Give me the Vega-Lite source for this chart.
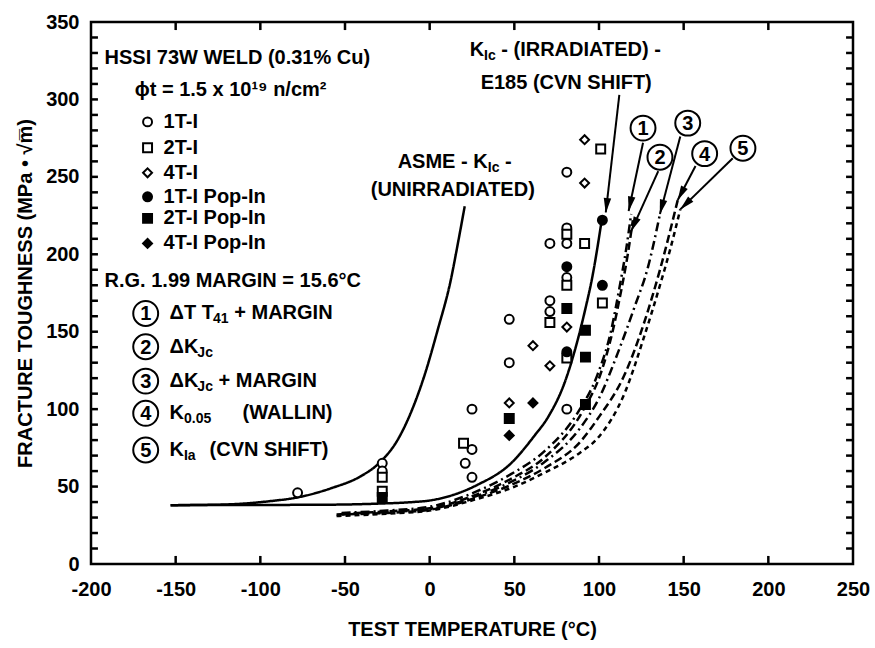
{
"$schema":"https://vega.github.io/schema/vega-lite/v6.json",
"width":762,"height":542,
"autosize":{"type":"none"},
"padding":{"left":91,"top":22,"right":22,"bottom":84},
"background":"white",
"config":{"font":"Liberation Sans","view":{"stroke":"black","strokeWidth":2.5},
 "axis":{"domain":false,"ticks":false,"labelColor":"black","labelFontSize":20,"labelFontWeight":"bold","titleFontSize":20,"titleFontWeight":"bold","titleColor":"black","grid":false,"labelFlush":false,"labelOverlap":false,"labelBound":false}},
"datasets":{
"xt":[{"v":-150},{"v":-100},{"v":-50},{"v":0},{"v":50},{"v":100},{"v":150},{"v":200}],
"yt":[{"v":10},{"v":20},{"v":30},{"v":40},{"v":50},{"v":60},{"v":70},{"v":80},{"v":90},{"v":100},{"v":110},{"v":120},{"v":130},{"v":140},{"v":150},{"v":160},{"v":170},{"v":180},{"v":190},{"v":200},{"v":210},{"v":220},{"v":230},{"v":240},{"v":250},{"v":260},{"v":270},{"v":280},{"v":290},{"v":300},{"v":310},{"v":320},{"v":330},{"v":340}],
"curves":[
{"c":"ASME","T":-153,"K":38},{"c":"ASME","T":-130,"K":38.2},{"c":"ASME","T":-110,"K":39},{"c":"ASME","T":-95,"K":40.5},{"c":"ASME","T":-78,"K":43},{"c":"ASME","T":-58,"K":49},{"c":"ASME","T":-41,"K":56.5},{"c":"ASME","T":-29.5,"K":65.5},{"c":"ASME","T":-19,"K":80},{"c":"ASME","T":-11,"K":98},{"c":"ASME","T":-3,"K":122},{"c":"ASME","T":4.7,"K":151},{"c":"ASME","T":12.4,"K":183},{"c":"ASME","T":17,"K":209},{"c":"ASME","T":20.7,"K":231},
{"c":"E185","T":-153,"K":38},{"c":"E185","T":-60,"K":38.3},{"c":"E185","T":-30,"K":39},{"c":"E185","T":-10,"K":40},{"c":"E185","T":0,"K":41},{"c":"E185","T":15,"K":45},{"c":"E185","T":28,"K":51},{"c":"E185","T":48,"K":65},{"c":"E185","T":62,"K":83},{"c":"E185","T":70,"K":95},{"c":"E185","T":80,"K":118},{"c":"E185","T":87,"K":143},{"c":"E185","T":92,"K":165},{"c":"E185","T":96,"K":185},{"c":"E185","T":101.6,"K":222},
{"c":"C1","T":-52,"K":33},{"c":"C1","T":-25,"K":34.5},{"c":"C1","T":0,"K":37},{"c":"C1","T":28,"K":47},{"c":"C1","T":48,"K":58},{"c":"C1","T":68,"K":73},{"c":"C1","T":87,"K":97},{"c":"C1","T":99,"K":122},{"c":"C1","T":107,"K":150},{"c":"C1","T":112,"K":178},{"c":"C1","T":116,"K":203},{"c":"C1","T":119,"K":226},
{"c":"C2","T":-52,"K":32.5},{"c":"C2","T":-25,"K":34},{"c":"C2","T":0,"K":36},{"c":"C2","T":28,"K":45},{"c":"C2","T":48,"K":55},{"c":"C2","T":68,"K":69},{"c":"C2","T":91,"K":100},{"c":"C2","T":101,"K":123},{"c":"C2","T":108,"K":150},{"c":"C2","T":113,"K":176},{"c":"C2","T":117,"K":200},{"c":"C2","T":120,"K":222},
{"c":"C3","T":-52,"K":32},{"c":"C3","T":-25,"K":33.5},{"c":"C3","T":0,"K":35.5},{"c":"C3","T":28,"K":44},{"c":"C3","T":48,"K":53},{"c":"C3","T":68,"K":66},{"c":"C3","T":89,"K":88},{"c":"C3","T":100,"K":107},{"c":"C3","T":111,"K":136},{"c":"C3","T":121,"K":166},{"c":"C3","T":129,"K":192},{"c":"C3","T":136,"K":226},
{"c":"C4","T":-55,"K":32},{"c":"C4","T":-25,"K":33},{"c":"C4","T":0,"K":35},{"c":"C4","T":28,"K":43},{"c":"C4","T":48,"K":51},{"c":"C4","T":68,"K":62},{"c":"C4","T":89,"K":79},{"c":"C4","T":100,"K":95},{"c":"C4","T":115,"K":122},{"c":"C4","T":127,"K":157},{"c":"C4","T":136,"K":190},{"c":"C4","T":146.5,"K":235},
{"c":"C5","T":-55,"K":31},{"c":"C5","T":-25,"K":32.5},{"c":"C5","T":0,"K":34.5},{"c":"C5","T":28,"K":42},{"c":"C5","T":48,"K":49},{"c":"C5","T":68,"K":59},{"c":"C5","T":89,"K":72},{"c":"C5","T":99,"K":81},{"c":"C5","T":115,"K":110},{"c":"C5","T":127,"K":148},{"c":"C5","T":136,"K":180},{"c":"C5","T":142,"K":203},{"c":"C5","T":148,"K":229}
],
"points":[
{"s":"1T-I","T":-78,"K":46},{"s":"1T-I","T":-28,"K":65},{"s":"1T-I","T":-28,"K":60},{"s":"1T-I","T":21,"K":65},{"s":"1T-I","T":25,"K":74},{"s":"1T-I","T":25,"K":56},{"s":"1T-I","T":25,"K":100},{"s":"1T-I","T":47,"K":158},{"s":"1T-I","T":47,"K":130},{"s":"1T-I","T":71,"K":207},{"s":"1T-I","T":71,"K":170},{"s":"1T-I","T":71,"K":163},{"s":"1T-I","T":81,"K":253},{"s":"1T-I","T":81,"K":217},{"s":"1T-I","T":81,"K":207},{"s":"1T-I","T":81,"K":185},{"s":"1T-I","T":81,"K":100},
{"s":"2T-I","T":-28,"K":56},{"s":"2T-I","T":-28,"K":47},{"s":"2T-I","T":20,"K":78},{"s":"2T-I","T":71,"K":156},{"s":"2T-I","T":81,"K":213},{"s":"2T-I","T":81,"K":180},{"s":"2T-I","T":81,"K":133},{"s":"2T-I","T":91.5,"K":207},{"s":"2T-I","T":101,"K":268},{"s":"2T-I","T":102,"K":168.5},
{"s":"4T-I","T":47,"K":104},{"s":"4T-I","T":61,"K":141},{"s":"4T-I","T":71,"K":128},{"s":"4T-I","T":81,"K":153},{"s":"4T-I","T":91.5,"K":274},{"s":"4T-I","T":91.5,"K":246},
{"s":"1T-I Pop-In","T":81,"K":192},{"s":"1T-I Pop-In","T":81,"K":137},{"s":"1T-I Pop-In","T":102,"K":222},{"s":"1T-I Pop-In","T":102,"K":180},
{"s":"2T-I Pop-In","T":-28,"K":43},{"s":"2T-I Pop-In","T":47,"K":94},{"s":"2T-I Pop-In","T":81,"K":165},{"s":"2T-I Pop-In","T":92,"K":151},{"s":"2T-I Pop-In","T":92,"K":133.6},{"s":"2T-I Pop-In","T":92,"K":103},
{"s":"4T-I Pop-In","T":47,"K":83},{"s":"4T-I Pop-In","T":61,"K":104}
],
"key":[
{"s":"1T-I","x":-166.6,"y":285.5},{"s":"2T-I","x":-166.6,"y":268.8},{"s":"4T-I","x":-166.6,"y":252.6},{"s":"1T-I Pop-In","x":-166.6,"y":237.1},{"s":"2T-I Pop-In","x":-166.6,"y":223.2},{"s":"4T-I Pop-In","x":-166.6,"y":207}
],
"arrows":[
{"x1":126,"y1":272,"x2":117.5,"y2":228,"hx":118.4,"hy":232.4,"a":11.9},
{"x1":135,"y1":253.7,"x2":119,"y2":215,"hx":120.7,"hy":219.1,"a":24.3},
{"x1":148,"y1":276,"x2":136,"y2":226,"hx":137,"hy":230.4,"a":14.8},
{"x1":157,"y1":257,"x2":146.5,"y2":235,"hx":148.4,"hy":239,"a":27.6},
{"x1":179,"y1":262,"x2":148,"y2":229,"hx":151,"hy":232.2,"a":45.7},
{"x1":112,"y1":303,"x2":104,"y2":227,"hx":104.5,"hy":231.5,"a":6.5}
],
"rings":[
{"x":-167.7,"y":161.8,"n":"1"},{"x":-167.7,"y":140.3,"n":"2"},{"x":-167.7,"y":118.1,"n":"3"},{"x":-167.7,"y":97.3,"n":"4"},{"x":-167.7,"y":73.6,"n":"5"},
{"x":126,"y":281.5,"n":"1"},{"x":136,"y":262.7,"n":"2"},{"x":152.4,"y":284.7,"n":"3"},{"x":162.4,"y":265,"n":"4"},{"x":185,"y":268.5,"n":"5"}
],
"texts":[
{"x":-192,"y":326.7,"t":"HSSI 73W WELD (0.31% Cu)"},
{"x":-174.2,"y":306,"t":"ϕt = 1.5 x 10¹⁹ n/cm²"},
{"x":-192,"y":182.7,"t":"R.G. 1.99 MARGIN = 15.6°C"},
{"x":-153.6,"y":161.8,"t":"ΔT T"},
{"x":-115.4,"y":161.8,"t":"+ MARGIN"},
{"x":-153.6,"y":140.3,"t":"ΔK"},
{"x":-153.6,"y":118.1,"t":"ΔK"},
{"x":-124.7,"y":118.1,"t":"+ MARGIN"},
{"x":-153.6,"y":97.3,"t":"K"},
{"x":-110.5,"y":97.3,"t":"(WALLIN)"},
{"x":-153.6,"y":73.6,"t":"K"},
{"x":-130,"y":73.6,"t":"(CVN SHIFT)"},
{"x":-18.9,"y":259.5,"t":"ASME - K"},
{"x":44.5,"y":259.5,"t":"-"},
{"x":-34.8,"y":241.4,"t":"(UNIRRADIATED)"},
{"x":23.6,"y":331.8,"t":"K"},
{"x":42.3,"y":331.8,"t":"- (IRRADIATED) -"},
{"x":30.1,"y":310.5,"t":"E185 (CVN SHIFT)"}
],
"subs":[
{"x":-128,"y":158,"t":"41"},{"x":-137.2,"y":136.4,"t":"Jc"},{"x":-137.2,"y":114.2,"t":"Jc"},{"x":-145.1,"y":93.4,"t":"0.05"},{"x":-145.1,"y":69.7,"t":"Ia"},{"x":34.3,"y":255.6,"t":"Ic"},{"x":32.1,"y":327.9,"t":"Ic"}
]
},
"layer":[
{"data":{"name":"curves"},
 "mark":{"type":"line","color":"black","strokeWidth":2.5,"interpolate":"monotone"},
 "encoding":{
  "x":{"field":"T","type":"quantitative","scale":{"domain":[-200,250],"nice":false,"zero":false},
   "axis":{"orient":"bottom","values":[-200,-150,-100,-50,0,50,100,150,200,250],"labelExpr":"'' + datum.value","labelPadding":15,"title":"TEST TEMPERATURE (°C)","titlePadding":20}},
  "y":{"field":"K","type":"quantitative","scale":{"domain":[0,350],"nice":false,"zero":false},
   "axis":{"orient":"left","values":[0,50,100,150,200,250,300,350],"labelPadding":12,"title":"FRACTURE TOUGHNESS (MPa • √m̅)","titlePadding":10}},
  "detail":{"field":"c"},
  "strokeDash":{"field":"c","type":"nominal","legend":null,"scale":{"domain":["ASME","E185","C1","C2","C3","C4","C5"],"range":[[1,0],[1,0],[9,4,2,4],[8,4],[9,4,2,4],[8,4],[5,4]]}}
 }},
{"data":{"name":"xt"},
 "mark":{"type":"rule","color":"black","strokeWidth":2.5},
 "encoding":{"x":{"field":"v","type":"quantitative"},"y":{"datum":0,"type":"quantitative"},"y2":{"datum":5.2}}},
{"data":{"name":"xt"},
 "mark":{"type":"rule","color":"black","strokeWidth":2.5},
 "encoding":{"x":{"field":"v","type":"quantitative"},"y":{"datum":350,"type":"quantitative"},"y2":{"datum":344.8}}},
{"data":{"name":"yt"},
 "mark":{"type":"rule","color":"black","strokeWidth":2.5},
 "encoding":{"y":{"field":"v","type":"quantitative"},"x":{"datum":-200,"type":"quantitative"},"x2":{"datum":-195.9}}},
{"data":{"name":"yt"},
 "mark":{"type":"rule","color":"black","strokeWidth":2.5},
 "encoding":{"y":{"field":"v","type":"quantitative"},"x":{"datum":250,"type":"quantitative"},"x2":{"datum":245.9}}},
{"data":{"name":"points"},
 "mark":{"type":"point","filled":true,"stroke":"black","strokeWidth":2,"size":80,"opacity":1},
 "encoding":{
  "x":{"field":"T","type":"quantitative"},
  "y":{"field":"K","type":"quantitative"},
  "shape":{"field":"s","type":"nominal","legend":null,"scale":{"domain":["1T-I","2T-I","4T-I","1T-I Pop-In","2T-I Pop-In","4T-I Pop-In"],"range":["circle","square","diamond","circle","square","diamond"]}},
  "fill":{"field":"s","type":"nominal","legend":null,"scale":{"domain":["1T-I","2T-I","4T-I","1T-I Pop-In","2T-I Pop-In","4T-I Pop-In"],"range":["white","white","white","black","black","black"]}}
 }},
{"data":{"name":"key"},
 "mark":{"type":"point","filled":true,"stroke":"black","strokeWidth":2,"size":80,"opacity":1},
 "encoding":{
  "x":{"field":"x","type":"quantitative"},"y":{"field":"y","type":"quantitative"},
  "shape":{"field":"s","type":"nominal","legend":null},
  "fill":{"field":"s","type":"nominal","legend":null}
 }},
{"data":{"name":"key"},
 "mark":{"type":"text","fontSize":20,"fontWeight":"bold","align":"left","baseline":"middle","color":"black","dx":16},
 "encoding":{
  "x":{"field":"x","type":"quantitative"},"y":{"field":"y","type":"quantitative"},
  "text":{"field":"s"}}},
{"data":{"name":"arrows"},
 "mark":{"type":"rule","color":"black","strokeWidth":2},
 "encoding":{
  "x":{"field":"x1","type":"quantitative"},"y":{"field":"y1","type":"quantitative"},
  "x2":{"field":"x2"},"y2":{"field":"y2"}}},
{"data":{"name":"arrows"},
 "mark":{"type":"point","shape":"M-0.5,-1L0.5,-1L0,1Z","filled":true,"color":"black","size":225,"opacity":1},
 "encoding":{
  "x":{"field":"hx","type":"quantitative"},"y":{"field":"hy","type":"quantitative"},
  "angle":{"field":"a","type":"quantitative","scale":null}}},
{"data":{"name":"rings"},
 "mark":{"type":"point","shape":"circle","filled":false,"color":"black","strokeWidth":2,"size":620,"opacity":1},
 "encoding":{
  "x":{"field":"x","type":"quantitative"},"y":{"field":"y","type":"quantitative"}}},
{"data":{"name":"rings"},
 "mark":{"type":"text","fontSize":20,"fontWeight":"bold","align":"center","baseline":"middle","color":"black","dy":1},
 "encoding":{
  "x":{"field":"x","type":"quantitative"},"y":{"field":"y","type":"quantitative"},
  "text":{"field":"n"}}},
{"data":{"name":"texts"},
 "mark":{"type":"text","fontSize":20,"fontWeight":"bold","align":"left","baseline":"middle","color":"black"},
 "encoding":{
  "x":{"field":"x","type":"quantitative"},"y":{"field":"y","type":"quantitative"},
  "text":{"field":"t"}}},
{"data":{"name":"subs"},
 "mark":{"type":"text","fontSize":14,"fontWeight":"bold","align":"left","baseline":"middle","color":"black"},
 "encoding":{
  "x":{"field":"x","type":"quantitative"},"y":{"field":"y","type":"quantitative"},
  "text":{"field":"t"}}}
]
}
